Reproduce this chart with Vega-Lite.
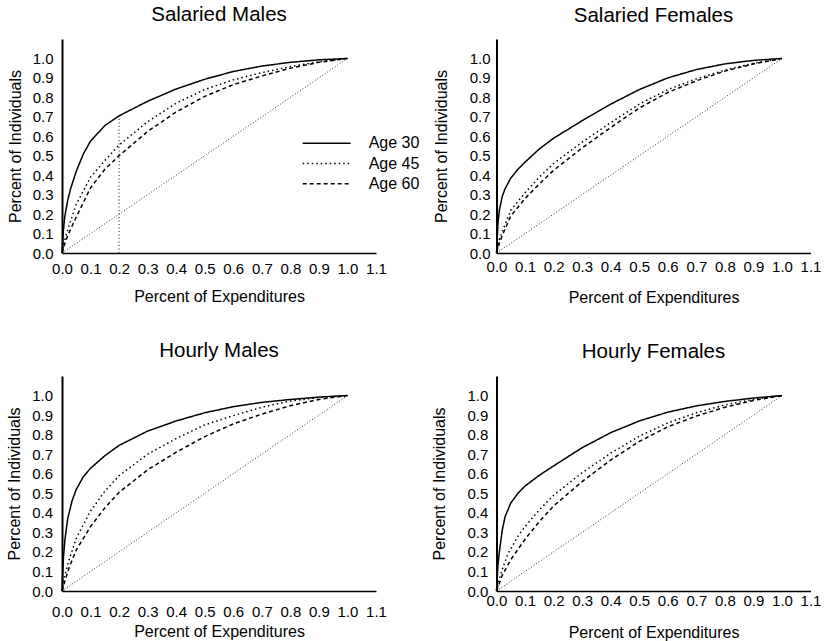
{
  "$schema": "https://vega.github.io/schema/vega-lite/v6.json",
  "background": "white",
  "padding": {"left": 6, "top": 4, "right": 3, "bottom": 1},
  "config": {
    "view": {"stroke": null},
    "font": "Liberation Sans",
    "axis": {"domainColor": "black", "domainWidth": 1.5, "ticks": false, "tickSize": 0, "grid": false, "labelFont": "Liberation Sans", "labelFontSize": 15, "labelColor": "black", "titleFont": "Liberation Sans", "titleFontSize": 16, "titleFontWeight": "normal", "titleColor": "black", "labelFlush": false, "labelOverlap": false, "labelBound": false, "titleBaseline": "alphabetic"},
    "axisY": {"domainWidth": 2},
    "title": {"font": "Liberation Sans", "fontSize": 20.5, "fontWeight": "normal", "color": "black", "anchor": "middle", "baseline": "alphabetic", "frame": "group"}
  },
  "datasets": {
    "diag": [{"x": 0, "y": 0}, {"x": 1, "y": 1}],
    "ref": [{"x": 0.2, "y": 0, "y2": 0.705}],
    "curves": [
      {"p": "SM", "age": "Age 30", "x": 0, "y": 0},
      {"p": "SM", "age": "Age 30", "x": 0.005, "y": 0.12},
      {"p": "SM", "age": "Age 30", "x": 0.01, "y": 0.19},
      {"p": "SM", "age": "Age 30", "x": 0.02, "y": 0.27},
      {"p": "SM", "age": "Age 30", "x": 0.03, "y": 0.33},
      {"p": "SM", "age": "Age 30", "x": 0.05, "y": 0.42},
      {"p": "SM", "age": "Age 30", "x": 0.075, "y": 0.51},
      {"p": "SM", "age": "Age 30", "x": 0.1, "y": 0.575},
      {"p": "SM", "age": "Age 30", "x": 0.15, "y": 0.655},
      {"p": "SM", "age": "Age 30", "x": 0.2, "y": 0.705},
      {"p": "SM", "age": "Age 30", "x": 0.3, "y": 0.78},
      {"p": "SM", "age": "Age 30", "x": 0.4, "y": 0.843},
      {"p": "SM", "age": "Age 30", "x": 0.5, "y": 0.893},
      {"p": "SM", "age": "Age 30", "x": 0.6, "y": 0.933},
      {"p": "SM", "age": "Age 30", "x": 0.7, "y": 0.961},
      {"p": "SM", "age": "Age 30", "x": 0.8, "y": 0.98},
      {"p": "SM", "age": "Age 30", "x": 0.9, "y": 0.993},
      {"p": "SM", "age": "Age 30", "x": 1, "y": 1},
      {"p": "SM", "age": "Age 45", "x": 0, "y": 0},
      {"p": "SM", "age": "Age 45", "x": 0.01, "y": 0.07},
      {"p": "SM", "age": "Age 45", "x": 0.02, "y": 0.12},
      {"p": "SM", "age": "Age 45", "x": 0.05, "y": 0.25},
      {"p": "SM", "age": "Age 45", "x": 0.1, "y": 0.39},
      {"p": "SM", "age": "Age 45", "x": 0.15, "y": 0.475},
      {"p": "SM", "age": "Age 45", "x": 0.2, "y": 0.555},
      {"p": "SM", "age": "Age 45", "x": 0.3, "y": 0.675},
      {"p": "SM", "age": "Age 45", "x": 0.4, "y": 0.77},
      {"p": "SM", "age": "Age 45", "x": 0.5, "y": 0.84},
      {"p": "SM", "age": "Age 45", "x": 0.6, "y": 0.89},
      {"p": "SM", "age": "Age 45", "x": 0.7, "y": 0.927},
      {"p": "SM", "age": "Age 45", "x": 0.8, "y": 0.958},
      {"p": "SM", "age": "Age 45", "x": 0.9, "y": 0.983},
      {"p": "SM", "age": "Age 45", "x": 1, "y": 1},
      {"p": "SM", "age": "Age 60", "x": 0, "y": 0},
      {"p": "SM", "age": "Age 60", "x": 0.01, "y": 0.05},
      {"p": "SM", "age": "Age 60", "x": 0.02, "y": 0.09},
      {"p": "SM", "age": "Age 60", "x": 0.05, "y": 0.185},
      {"p": "SM", "age": "Age 60", "x": 0.1, "y": 0.335},
      {"p": "SM", "age": "Age 60", "x": 0.15, "y": 0.43},
      {"p": "SM", "age": "Age 60", "x": 0.2, "y": 0.5},
      {"p": "SM", "age": "Age 60", "x": 0.3, "y": 0.625},
      {"p": "SM", "age": "Age 60", "x": 0.4, "y": 0.725},
      {"p": "SM", "age": "Age 60", "x": 0.5, "y": 0.805},
      {"p": "SM", "age": "Age 60", "x": 0.6, "y": 0.865},
      {"p": "SM", "age": "Age 60", "x": 0.7, "y": 0.91},
      {"p": "SM", "age": "Age 60", "x": 0.8, "y": 0.95},
      {"p": "SM", "age": "Age 60", "x": 0.9, "y": 0.98},
      {"p": "SM", "age": "Age 60", "x": 1, "y": 1},

      {"p": "SF", "age": "Age 30", "x": 0, "y": 0},
      {"p": "SF", "age": "Age 30", "x": 0.005, "y": 0.15},
      {"p": "SF", "age": "Age 30", "x": 0.01, "y": 0.22},
      {"p": "SF", "age": "Age 30", "x": 0.02, "y": 0.29},
      {"p": "SF", "age": "Age 30", "x": 0.03, "y": 0.33},
      {"p": "SF", "age": "Age 30", "x": 0.05, "y": 0.385},
      {"p": "SF", "age": "Age 30", "x": 0.075, "y": 0.43},
      {"p": "SF", "age": "Age 30", "x": 0.1, "y": 0.467},
      {"p": "SF", "age": "Age 30", "x": 0.15, "y": 0.535},
      {"p": "SF", "age": "Age 30", "x": 0.2, "y": 0.59},
      {"p": "SF", "age": "Age 30", "x": 0.3, "y": 0.68},
      {"p": "SF", "age": "Age 30", "x": 0.4, "y": 0.765},
      {"p": "SF", "age": "Age 30", "x": 0.5, "y": 0.84},
      {"p": "SF", "age": "Age 30", "x": 0.6, "y": 0.9},
      {"p": "SF", "age": "Age 30", "x": 0.7, "y": 0.943},
      {"p": "SF", "age": "Age 30", "x": 0.8, "y": 0.972},
      {"p": "SF", "age": "Age 30", "x": 0.9, "y": 0.99},
      {"p": "SF", "age": "Age 30", "x": 1, "y": 1},
      {"p": "SF", "age": "Age 45", "x": 0, "y": 0},
      {"p": "SF", "age": "Age 45", "x": 0.01, "y": 0.07},
      {"p": "SF", "age": "Age 45", "x": 0.02, "y": 0.11},
      {"p": "SF", "age": "Age 45", "x": 0.05, "y": 0.22},
      {"p": "SF", "age": "Age 45", "x": 0.1, "y": 0.31},
      {"p": "SF", "age": "Age 45", "x": 0.15, "y": 0.39},
      {"p": "SF", "age": "Age 45", "x": 0.2, "y": 0.46},
      {"p": "SF", "age": "Age 45", "x": 0.3, "y": 0.57},
      {"p": "SF", "age": "Age 45", "x": 0.4, "y": 0.67},
      {"p": "SF", "age": "Age 45", "x": 0.5, "y": 0.765},
      {"p": "SF", "age": "Age 45", "x": 0.6, "y": 0.84},
      {"p": "SF", "age": "Age 45", "x": 0.7, "y": 0.895},
      {"p": "SF", "age": "Age 45", "x": 0.8, "y": 0.94},
      {"p": "SF", "age": "Age 45", "x": 0.9, "y": 0.975},
      {"p": "SF", "age": "Age 45", "x": 1, "y": 1},
      {"p": "SF", "age": "Age 60", "x": 0, "y": 0},
      {"p": "SF", "age": "Age 60", "x": 0.01, "y": 0.05},
      {"p": "SF", "age": "Age 60", "x": 0.02, "y": 0.09},
      {"p": "SF", "age": "Age 60", "x": 0.05, "y": 0.19},
      {"p": "SF", "age": "Age 60", "x": 0.1, "y": 0.28},
      {"p": "SF", "age": "Age 60", "x": 0.15, "y": 0.355},
      {"p": "SF", "age": "Age 60", "x": 0.2, "y": 0.425},
      {"p": "SF", "age": "Age 60", "x": 0.3, "y": 0.54},
      {"p": "SF", "age": "Age 60", "x": 0.4, "y": 0.645},
      {"p": "SF", "age": "Age 60", "x": 0.5, "y": 0.745},
      {"p": "SF", "age": "Age 60", "x": 0.6, "y": 0.825},
      {"p": "SF", "age": "Age 60", "x": 0.7, "y": 0.885},
      {"p": "SF", "age": "Age 60", "x": 0.8, "y": 0.935},
      {"p": "SF", "age": "Age 60", "x": 0.9, "y": 0.972},
      {"p": "SF", "age": "Age 60", "x": 1, "y": 1},

      {"p": "HM", "age": "Age 30", "x": 0, "y": 0},
      {"p": "HM", "age": "Age 30", "x": 0.005, "y": 0.17},
      {"p": "HM", "age": "Age 30", "x": 0.01, "y": 0.26},
      {"p": "HM", "age": "Age 30", "x": 0.02, "y": 0.37},
      {"p": "HM", "age": "Age 30", "x": 0.035, "y": 0.46},
      {"p": "HM", "age": "Age 30", "x": 0.05, "y": 0.52},
      {"p": "HM", "age": "Age 30", "x": 0.075, "y": 0.585},
      {"p": "HM", "age": "Age 30", "x": 0.1, "y": 0.628},
      {"p": "HM", "age": "Age 30", "x": 0.15, "y": 0.692},
      {"p": "HM", "age": "Age 30", "x": 0.2, "y": 0.745},
      {"p": "HM", "age": "Age 30", "x": 0.3, "y": 0.818},
      {"p": "HM", "age": "Age 30", "x": 0.4, "y": 0.87},
      {"p": "HM", "age": "Age 30", "x": 0.5, "y": 0.912},
      {"p": "HM", "age": "Age 30", "x": 0.6, "y": 0.943},
      {"p": "HM", "age": "Age 30", "x": 0.7, "y": 0.965},
      {"p": "HM", "age": "Age 30", "x": 0.8, "y": 0.98},
      {"p": "HM", "age": "Age 30", "x": 0.9, "y": 0.992},
      {"p": "HM", "age": "Age 30", "x": 1, "y": 1},
      {"p": "HM", "age": "Age 45", "x": 0, "y": 0},
      {"p": "HM", "age": "Age 45", "x": 0.01, "y": 0.08},
      {"p": "HM", "age": "Age 45", "x": 0.025, "y": 0.16},
      {"p": "HM", "age": "Age 45", "x": 0.05, "y": 0.27},
      {"p": "HM", "age": "Age 45", "x": 0.1, "y": 0.41},
      {"p": "HM", "age": "Age 45", "x": 0.15, "y": 0.51},
      {"p": "HM", "age": "Age 45", "x": 0.2, "y": 0.59},
      {"p": "HM", "age": "Age 45", "x": 0.3, "y": 0.7},
      {"p": "HM", "age": "Age 45", "x": 0.4, "y": 0.78},
      {"p": "HM", "age": "Age 45", "x": 0.5, "y": 0.85},
      {"p": "HM", "age": "Age 45", "x": 0.6, "y": 0.897},
      {"p": "HM", "age": "Age 45", "x": 0.7, "y": 0.94},
      {"p": "HM", "age": "Age 45", "x": 0.8, "y": 0.972},
      {"p": "HM", "age": "Age 45", "x": 0.9, "y": 0.99},
      {"p": "HM", "age": "Age 45", "x": 1, "y": 1},
      {"p": "HM", "age": "Age 60", "x": 0, "y": 0},
      {"p": "HM", "age": "Age 60", "x": 0.01, "y": 0.05},
      {"p": "HM", "age": "Age 60", "x": 0.025, "y": 0.12},
      {"p": "HM", "age": "Age 60", "x": 0.05, "y": 0.21},
      {"p": "HM", "age": "Age 60", "x": 0.1, "y": 0.33},
      {"p": "HM", "age": "Age 60", "x": 0.15, "y": 0.425},
      {"p": "HM", "age": "Age 60", "x": 0.2, "y": 0.505},
      {"p": "HM", "age": "Age 60", "x": 0.3, "y": 0.62},
      {"p": "HM", "age": "Age 60", "x": 0.4, "y": 0.71},
      {"p": "HM", "age": "Age 60", "x": 0.5, "y": 0.79},
      {"p": "HM", "age": "Age 60", "x": 0.6, "y": 0.855},
      {"p": "HM", "age": "Age 60", "x": 0.7, "y": 0.905},
      {"p": "HM", "age": "Age 60", "x": 0.8, "y": 0.948},
      {"p": "HM", "age": "Age 60", "x": 0.9, "y": 0.98},
      {"p": "HM", "age": "Age 60", "x": 1, "y": 1},

      {"p": "HF", "age": "Age 30", "x": 0, "y": 0},
      {"p": "HF", "age": "Age 30", "x": 0.005, "y": 0.13},
      {"p": "HF", "age": "Age 30", "x": 0.01, "y": 0.2},
      {"p": "HF", "age": "Age 30", "x": 0.02, "y": 0.31},
      {"p": "HF", "age": "Age 30", "x": 0.03, "y": 0.38},
      {"p": "HF", "age": "Age 30", "x": 0.05, "y": 0.45},
      {"p": "HF", "age": "Age 30", "x": 0.075, "y": 0.5},
      {"p": "HF", "age": "Age 30", "x": 0.1, "y": 0.537},
      {"p": "HF", "age": "Age 30", "x": 0.15, "y": 0.592},
      {"p": "HF", "age": "Age 30", "x": 0.2, "y": 0.64},
      {"p": "HF", "age": "Age 30", "x": 0.3, "y": 0.733},
      {"p": "HF", "age": "Age 30", "x": 0.4, "y": 0.81},
      {"p": "HF", "age": "Age 30", "x": 0.5, "y": 0.87},
      {"p": "HF", "age": "Age 30", "x": 0.6, "y": 0.915},
      {"p": "HF", "age": "Age 30", "x": 0.7, "y": 0.947},
      {"p": "HF", "age": "Age 30", "x": 0.8, "y": 0.97},
      {"p": "HF", "age": "Age 30", "x": 0.9, "y": 0.987},
      {"p": "HF", "age": "Age 30", "x": 1, "y": 1},
      {"p": "HF", "age": "Age 45", "x": 0, "y": 0},
      {"p": "HF", "age": "Age 45", "x": 0.01, "y": 0.06},
      {"p": "HF", "age": "Age 45", "x": 0.02, "y": 0.11},
      {"p": "HF", "age": "Age 45", "x": 0.04, "y": 0.19},
      {"p": "HF", "age": "Age 45", "x": 0.075, "y": 0.28},
      {"p": "HF", "age": "Age 45", "x": 0.1, "y": 0.33},
      {"p": "HF", "age": "Age 45", "x": 0.15, "y": 0.415},
      {"p": "HF", "age": "Age 45", "x": 0.2, "y": 0.49},
      {"p": "HF", "age": "Age 45", "x": 0.3, "y": 0.605},
      {"p": "HF", "age": "Age 45", "x": 0.4, "y": 0.705},
      {"p": "HF", "age": "Age 45", "x": 0.5, "y": 0.792},
      {"p": "HF", "age": "Age 45", "x": 0.6, "y": 0.86},
      {"p": "HF", "age": "Age 45", "x": 0.7, "y": 0.912},
      {"p": "HF", "age": "Age 45", "x": 0.8, "y": 0.952},
      {"p": "HF", "age": "Age 45", "x": 0.9, "y": 0.98},
      {"p": "HF", "age": "Age 45", "x": 1, "y": 1},
      {"p": "HF", "age": "Age 60", "x": 0, "y": 0},
      {"p": "HF", "age": "Age 60", "x": 0.01, "y": 0.04},
      {"p": "HF", "age": "Age 60", "x": 0.02, "y": 0.08},
      {"p": "HF", "age": "Age 60", "x": 0.05, "y": 0.16},
      {"p": "HF", "age": "Age 60", "x": 0.1, "y": 0.265},
      {"p": "HF", "age": "Age 60", "x": 0.15, "y": 0.355},
      {"p": "HF", "age": "Age 60", "x": 0.2, "y": 0.435},
      {"p": "HF", "age": "Age 60", "x": 0.3, "y": 0.56},
      {"p": "HF", "age": "Age 60", "x": 0.4, "y": 0.67},
      {"p": "HF", "age": "Age 60", "x": 0.5, "y": 0.765},
      {"p": "HF", "age": "Age 60", "x": 0.6, "y": 0.84},
      {"p": "HF", "age": "Age 60", "x": 0.7, "y": 0.895},
      {"p": "HF", "age": "Age 60", "x": 0.8, "y": 0.94},
      {"p": "HF", "age": "Age 60", "x": 0.9, "y": 0.975},
      {"p": "HF", "age": "Age 60", "x": 1, "y": 1}
    ]
  },
  "columns": 2,
  "spacing": {"row": 123, "column": 120.5},
  "bounds": "flush",
  "resolve": {"scale": {"strokeDash": "independent"}, "legend": {"strokeDash": "independent"}},
  "concat": [
    {
      "width": 314, "height": 214,
      "title": {"text": "Salaried Males", "offset": 14},
      "encoding": {
        "x": {"field": "x", "type": "quantitative", "scale": {"domain": [0, 1.1], "nice": false, "zero": false},
              "axis": {"title": "Percent of Expenditures", "values": [0, 0.1, 0.2, 0.3, 0.4, 0.5, 0.6, 0.7, 0.8, 0.9, 1, 1.1], "format": ".1f", "labelPadding": 8.6, "titleY": 48}},
        "y": {"field": "y", "type": "quantitative", "scale": {"domain": [0, 1.1], "nice": false, "zero": false},
              "axis": {"title": "Percent of Individuals", "values": [0, 0.1, 0.2, 0.3, 0.4, 0.5, 0.6, 0.7, 0.8, 0.9, 1], "format": ".1f", "labelPadding": 9, "titleX": -41.5}}
      },
      "layer": [
        {"data": {"name": "diag"}, "mark": {"type": "line", "strokeDash": [1, 2], "strokeWidth": 1, "color": "#333333"}},
        {"data": {"name": "ref"}, "mark": {"type": "rule", "strokeDash": [1, 2.5], "strokeWidth": 1, "color": "#222222"}, "encoding": {"y2": {"field": "y2"}}},
        {"data": {"name": "curves"}, "transform": [{"filter": "datum.p == 'SM'"}],
         "mark": {"type": "line", "color": "black", "strokeWidth": 1.5},
         "encoding": {"strokeDash": {"field": "age", "type": "nominal",
            "scale": {"domain": ["Age 30", "Age 45", "Age 60"], "range": [[1, 0], [1.5, 3], [4, 3]]},
            "legend": {"orient": "none", "legendX": 239.7, "legendY": 94.3, "title": null, "padding": 0, "symbolType": "stroke", "symbolSize": 2304, "symbolStrokeWidth": 1.5, "symbolStrokeColor": "black", "labelFont": "Liberation Sans", "labelFontSize": 16, "labelColor": "black", "labelOffset": 17, "clipHeight": 20, "rowPadding": 0.2}}}}
      ]
    },
    {
      "width": 314, "height": 214,
      "title": {"text": "Salaried Females", "offset": 13},
      "encoding": {
        "x": {"field": "x", "type": "quantitative", "scale": {"domain": [0, 1.1], "nice": false, "zero": false},
              "axis": {"title": "Percent of Expenditures", "values": [0, 0.1, 0.2, 0.3, 0.4, 0.5, 0.6, 0.7, 0.8, 0.9, 1, 1.1], "format": ".1f", "labelPadding": 6.9, "titleY": 49}},
        "y": {"field": "y", "type": "quantitative", "scale": {"domain": [0, 1.1], "nice": false, "zero": false},
              "axis": {"title": "Percent of Individuals", "values": [0, 0.1, 0.2, 0.3, 0.4, 0.5, 0.6, 0.7, 0.8, 0.9, 1], "format": ".1f", "labelPadding": 6.5, "titleX": -50.5}}
      },
      "layer": [
        {"data": {"name": "diag"}, "mark": {"type": "line", "strokeDash": [1, 2], "strokeWidth": 1, "color": "#333333"}},
        {"data": {"name": "curves"}, "transform": [{"filter": "datum.p == 'SF'"}],
         "mark": {"type": "line", "color": "black", "strokeWidth": 1.5},
         "encoding": {"strokeDash": {"field": "age", "type": "nominal",
            "scale": {"domain": ["Age 30", "Age 45", "Age 60"], "range": [[1, 0], [1.5, 3], [4, 3]]}, "legend": null}}}
      ]
    },
    {
      "width": 314, "height": 215,
      "title": {"text": "Hourly Males", "offset": 15},
      "encoding": {
        "x": {"field": "x", "type": "quantitative", "scale": {"domain": [0, 1.1], "nice": false, "zero": false},
              "axis": {"title": "Percent of Expenditures", "values": [0, 0.1, 0.2, 0.3, 0.4, 0.5, 0.6, 0.7, 0.8, 0.9, 1, 1.1], "format": ".1f", "labelPadding": 13.9, "titleY": 45}},
        "y": {"field": "y", "type": "quantitative", "scale": {"domain": [0, 1.1], "nice": false, "zero": false},
              "axis": {"title": "Percent of Individuals", "values": [0, 0.1, 0.2, 0.3, 0.4, 0.5, 0.6, 0.7, 0.8, 0.9, 1], "format": ".1f", "labelPadding": 9.5, "titleX": -42.5}}
      },
      "layer": [
        {"data": {"name": "diag"}, "mark": {"type": "line", "strokeDash": [1, 2], "strokeWidth": 1, "color": "#333333"}},
        {"data": {"name": "curves"}, "transform": [{"filter": "datum.p == 'HM'"}],
         "mark": {"type": "line", "color": "black", "strokeWidth": 1.5},
         "encoding": {"strokeDash": {"field": "age", "type": "nominal",
            "scale": {"domain": ["Age 30", "Age 45", "Age 60"], "range": [[1, 0], [1.5, 3], [4, 3]]}, "legend": null}}}
      ]
    },
    {
      "width": 314, "height": 215,
      "title": {"text": "Hourly Females", "offset": 13.3},
      "encoding": {
        "x": {"field": "x", "type": "quantitative", "scale": {"domain": [0, 1.1], "nice": false, "zero": false},
              "axis": {"title": "Percent of Expenditures", "values": [0, 0.1, 0.2, 0.3, 0.4, 0.5, 0.6, 0.7, 0.8, 0.9, 1, 1.1], "format": ".1f", "labelPadding": 2, "titleY": 46}},
        "y": {"field": "y", "type": "quantitative", "scale": {"domain": [0, 1.1], "nice": false, "zero": false},
              "axis": {"title": "Percent of Individuals", "values": [0, 0.1, 0.2, 0.3, 0.4, 0.5, 0.6, 0.7, 0.8, 0.9, 1], "format": ".1f", "labelPadding": 8.7, "titleX": -52}}
      },
      "layer": [
        {"data": {"name": "diag"}, "mark": {"type": "line", "strokeDash": [1, 2], "strokeWidth": 1, "color": "#333333"}},
        {"data": {"name": "curves"}, "transform": [{"filter": "datum.p == 'HF'"}],
         "mark": {"type": "line", "color": "black", "strokeWidth": 1.5},
         "encoding": {"strokeDash": {"field": "age", "type": "nominal",
            "scale": {"domain": ["Age 30", "Age 45", "Age 60"], "range": [[1, 0], [1.5, 3], [4, 3]]}, "legend": null}}}
      ]
    }
  ]
}
